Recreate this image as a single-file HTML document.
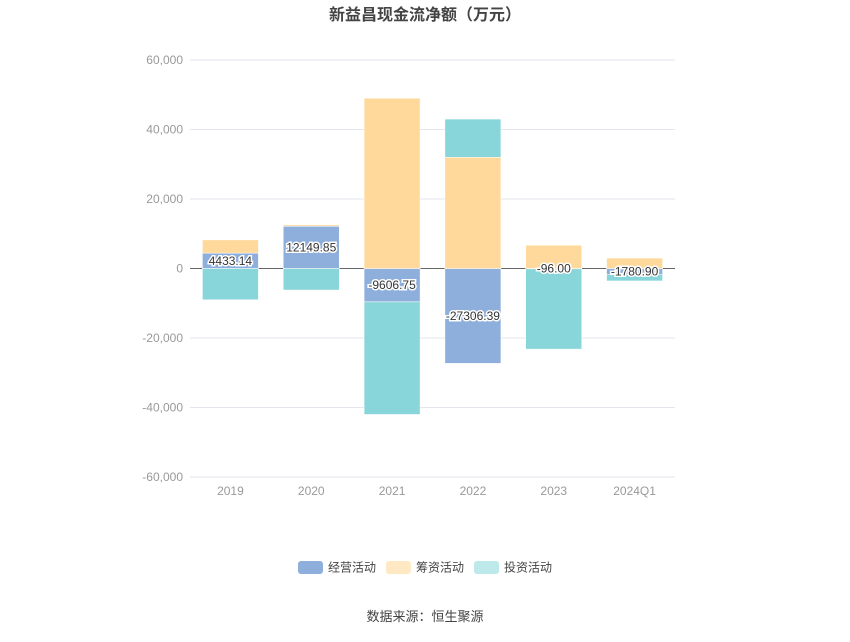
<!DOCTYPE html>
<html><head><meta charset="utf-8"><style>
body{margin:0;background:#fff;font-family:"Liberation Sans","Noto Sans CJK SC",sans-serif;}
</style></head><body>
<svg id="c" width="850" height="637" xmlns="http://www.w3.org/2000/svg">
<text x="425" y="20" text-anchor="middle" font-size="16" font-weight="bold" fill="#444">新益昌现金流净额（万元）</text>
<g id="grid"></g><g id="bars"></g><g id="labels"></g>
<g>
<rect x="298" y="561" width="25" height="13" rx="3" fill="#8eaedb"/>
<text x="328" y="571.5" font-size="12" fill="#444">经营活动</text>
<rect x="386" y="561" width="25" height="13" rx="3" fill="#ffe9c4"/>
<text x="416" y="571.5" font-size="12" fill="#444">筹资活动</text>
<rect x="474" y="561" width="25" height="13" rx="3" fill="#bde9ea"/>
<text x="504" y="571.5" font-size="12" fill="#444">投资活动</text>
</g>
<text x="425" y="621" text-anchor="middle" font-size="13" fill="#444">数据来源：恒生聚源</text>
</svg>
<script>
const categories=["2019","2020","2021","2022","2023","2024Q1"];
const operating=[4433.14,12149.85,-9606.75,-27306.39,-96.00,-1780.90];
const financing=[3800,400,49000,32000,6700,3000];
const investing=[-9000,-6200,-32400,11000,-23100,-1800];
const ticks=[60000,40000,20000,0,-20000,-40000,-60000];
const tickLabels=["60,000","40,000","20,000","0","-20,000","-40,000","-60,000"];
const NS="http://www.w3.org/2000/svg";
const X0=190,X1=675,Y0=60,Y1=477;
const y=v=>Y0+(60000-v)*(Y1-Y0)/120000;
const band=(X1-X0)/categories.length;
const bx=i=>X0+band*i+band/2;
function mk(t,a,p){const e=document.createElementNS(NS,t);for(const k in a)e.setAttribute(k,a[k]);p.appendChild(e);return e;}
const g=document.getElementById('grid');
ticks.forEach((t,i)=>{
 const l=mk('line',{x1:X0,x2:X1,y1:y(t),y2:y(t),stroke:t===0?'#666':'#e3e6ec','stroke-width':1},g);
 
 
 const tx=mk('text',{x:183,y:y(t)+4,'text-anchor':'end','font-size':12,fill:'#999'},g);
 tx.textContent=tickLabels[i];
 
 
});
categories.forEach((c,i)=>{
 const tx=mk('text',{x:bx(i),y:495,'text-anchor':'middle','font-size':12,fill:'#999'},g);
 tx.textContent=c;
 
 
});
const b=document.getElementById('bars'),lb=document.getElementById('labels');
const series=[[operating,'#8eaedb','operating'],[financing,'#ffd99b','financing'],[investing,'#88d6d9','investing']];
const W=56;
categories.forEach((c,i)=>{
 let pos=0,neg=0;
 series.forEach(([arr,col,nm])=>{
  const v=arr[i];let a,bb;
  if(v>=0){a=pos;bb=pos+v;pos=bb;}else{a=neg;bb=neg+v;neg=bb;}
  const top=Math.min(y(a),y(bb)),h=Math.abs(y(a)-y(bb));
  const r=mk('rect',{x:bx(i)-W/2,y:top,width:W,height:Math.max(h,0.5),fill:col,stroke:'#fff','stroke-width':0.5},b);
  
  
 });
 const t=mk('text',{x:bx(i),y:y(operating[i]/2)+4,'text-anchor':'middle','font-size':12,fill:'#333',stroke:'#fff','stroke-width':3,'paint-order':'stroke'},lb);
 t.textContent=operating[i].toFixed(2);
 
 
});
</script>
</body></html>
